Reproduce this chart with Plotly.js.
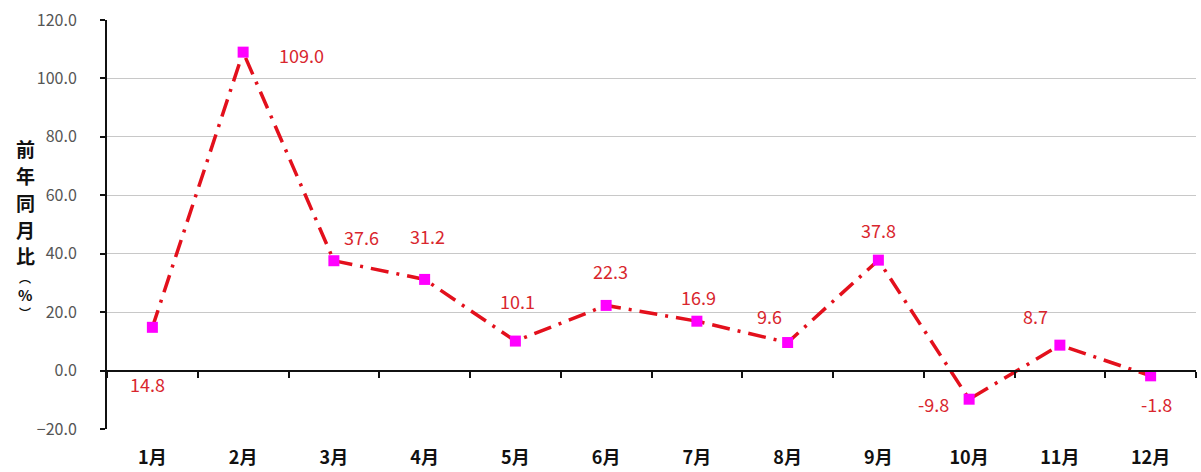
<!DOCTYPE html>
<html><head><meta charset="utf-8">
<script src="https://cdn.plot.ly/plotly-3.0.1.min.js"></script>
<style>html,body{margin:0;padding:0;background:#fff}#c{width:1201px;height:472px}</style>
</head><body><div id="c"></div>
<script>
const months = ["1月","2月","3月","4月","5月","6月","7月","8月","9月","10月","11月","12月"];
const values = [14.8, 109.0, 37.6, 31.2, 10.1, 22.3, 16.9, 9.6, 37.8, -9.8, 8.7, -1.8];
const labelShiftX = [-5, 58, 28, 3, 2, 4, 2, -18, 0, -36, -24, 6];
const labelShiftY = [-57, -3, 24, 43, 40, 34, 24, 27, 30, -5, 29, -28];
const yTitleChars = ["前","年","同","月","比","︵","%","︶"];
const yTitleRows = [148, 175, 202, 229, 255, 277, 294, 312];
const yTitleSizes = [19, 19, 19, 19, 19, 12, 15, 12];

const font = "'Noto Sans CJK JP', 'Noto Sans', sans-serif";
const annotations = months.map((m, i) => ({
  x: m, y: values[i], xref: 'x', yref: 'y',
  text: values[i].toFixed(1), showarrow: false,
  xshift: labelShiftX[i], yshift: labelShiftY[i],
  font: {family: font, size: 18, color: '#d9262e'}
}));
yTitleChars.forEach((ch, i) => annotations.push({
  xref: 'paper', yref: 'paper', x: 0, y: 1, xshift: -82, yshift: 20 - yTitleRows[i],
  xanchor: 'center', yanchor: 'middle',
  text: '<b>' + ch + '</b>', showarrow: false,
  font: {family: font, size: yTitleSizes[i], color: '#111'}
}));

const traces = [
  {x: months, y: values, type: 'scatter', mode: 'lines+markers',
   line: {color: '#e3101c', width: 3.5, dash: '18px,8px,3px,8px'},
   marker: {symbol: 'square', size: 11, color: '#ff00ff'},
   hoverinfo: 'skip', cliponaxis: false},
  {x: months, y: values, xaxis: 'x2', type: 'scatter', mode: 'markers',
   marker: {opacity: 0}, hoverinfo: 'skip', showlegend: false}
];

const layout = {
  width: 1201, height: 472,
  margin: {l: 107, r: 5, t: 20, b: 43},
  paper_bgcolor: '#fff', plot_bgcolor: '#fff',
  showlegend: false,
  xaxis: {type: 'category', categoryarray: months, range: [-0.5, 11.5],
    showgrid: false, zeroline: false, showline: false, ticks: '',
    ticklabelstandoff: 16,
    tickfont: {family: font, size: 18, color: '#111', weight: 'bold'}},
  xaxis2: {type: 'category', categoryarray: months, range: [-0.5, 11.5],
    overlaying: 'x', anchor: 'free', position: 20/140,
    showline: true, linecolor: '#111', linewidth: 2,
    ticks: 'outside', ticklen: 6, tickwidth: 2, tickcolor: '#111',
    tickson: 'boundaries', showticklabels: false, showgrid: false, zeroline: false},
  yaxis: {range: [-20, 120], dtick: 20, tick0: 0, tickformat: '.1f',
    showline: true, linecolor: '#111', linewidth: 2,
    ticks: 'outside', ticklen: 5, tickwidth: 2, tickcolor: '#111',
    ticklabelstandoff: 20,
    gridcolor: '#c8c8c8', gridwidth: 1, zeroline: false,
    tickfont: {family: font, size: 16, color: '#555'}},
  annotations: annotations
};
Plotly.newPlot('c', traces, layout, {displayModeBar: false, staticPlot: true});
</script></body></html>
